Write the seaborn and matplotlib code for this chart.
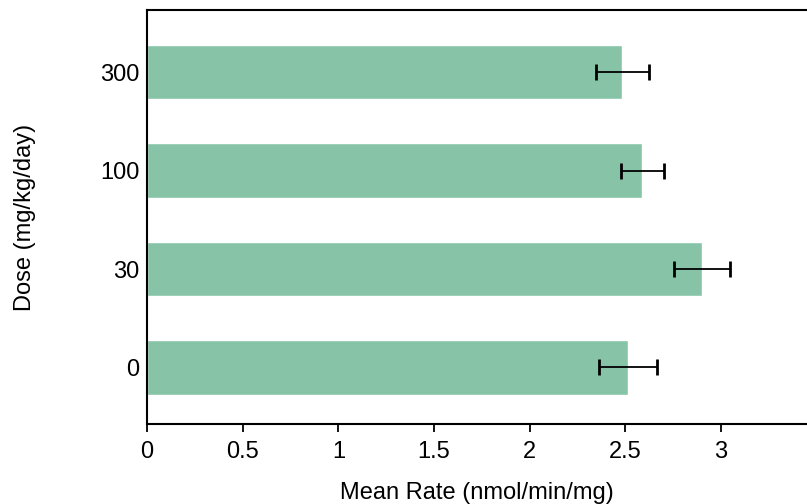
import pandas as pd
import seaborn as sns
import matplotlib.pyplot as plt

# Data
doses = ['300', '100', '30', '0']
mean_rate = [2.485, 2.59, 2.90, 2.515]
sem = [0.14, 0.11, 0.146, 0.152]

df = pd.DataFrame({'dose': doses, 'rate': mean_rate, 'sem': sem})

sns.set_style('white')
plt.rcParams['font.family'] = ['Liberation Sans', 'DejaVu Sans']
plt.rcParams['text.color'] = 'black'
plt.rcParams['axes.labelcolor'] = 'black'
plt.rcParams['xtick.color'] = 'black'
plt.rcParams['ytick.color'] = 'black'

fig = plt.figure(figsize=(8.07, 5.04), dpi=100)
ax = fig.add_axes([0.1822, 0.1587, 0.8178, 0.8214])

sns.barplot(data=df, x='rate', y='dose', order=doses, orient='h',
            color='#87c4a7', saturation=1, width=0.55, errorbar=None, ax=ax)
ax.errorbar(df['rate'], range(len(doses)), xerr=df['sem'], fmt='none',
            ecolor='black', elinewidth=1.3, capsize=6, capthick=2)

ax.set_xlim(0, 3.45)
ax.set_ylim(3.574, -0.63)
ax.set_xticks([0, 0.5, 1, 1.5, 2, 2.5, 3])
ax.set_xticklabels(['0', '0.5', '1', '1.5', '2', '2.5', '3'])

for s in ['left', 'bottom', 'top']:
    ax.spines[s].set_color('black')
    ax.spines[s].set_linewidth(1.5)
ax.spines['right'].set_visible(False)

ax.tick_params(axis='x', bottom=True, length=6, width=1.3, color='black',
               labelsize=17, pad=6)
ax.tick_params(axis='y', left=False, labelsize=17, pad=2)

ax.set_xlabel('Mean Rate (nmol/min/mg)', fontsize=17, labelpad=14)
ax.set_ylabel('Dose (mg/kg/day)', fontsize=17, labelpad=46)

fig.savefig('out.png', dpi=100)
